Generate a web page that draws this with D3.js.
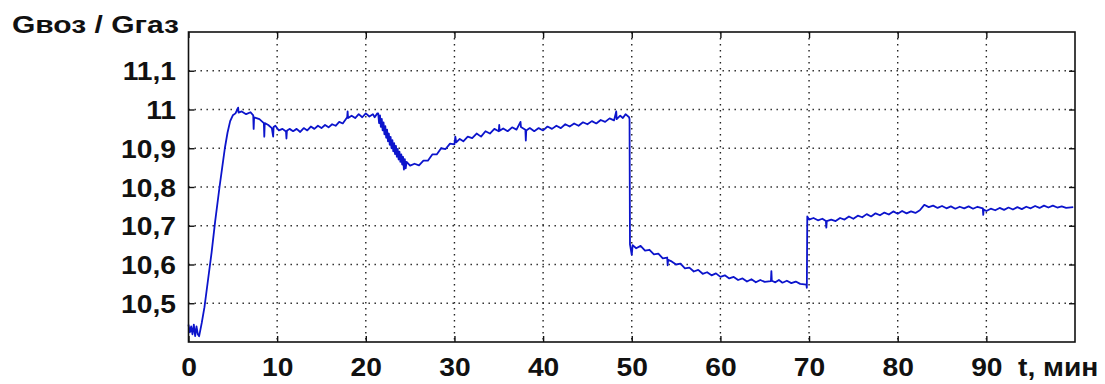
<!DOCTYPE html>
<html>
<head>
<meta charset="utf-8">
<script src="https://cdn.jsdelivr.net/npm/d3@7"></script>
<style>
  html, body { margin: 0; padding: 0; background: #fff; }
  svg { display: block; }
  text { font-family: "Liberation Sans", Arial, sans-serif; font-weight: bold; fill: #111; }
</style>
</head>
<body>
<svg id="chart" width="1105" height="384"></svg>
<script>
// Time, minutes (one row per stretch of the record)
const minutes = [
  0.0, 0.15, 0.3, 0.45, 0.6, 0.75, 0.9, 1.05, 1.2, 1.5, 1.8, 2.2, 2.6, 3.0, 3.5, 3.8, 4.1, 4.4, 4.7,
  5.0, 5.3, 5.6, 5.65, 6.0, 6.5, 7.0, 7.3, 7.35, 7.4, 8.0, 8.5, 8.55, 8.6,
  9.0, 9.4, 9.55, 9.6, 9.8, 10.2, 10.6, 11.0, 11.05, 11.1, 11.4, 11.8, 12.2, 12.6, 13.0, 13.4, 13.8, 14.2, 14.6,
  15.0, 15.4, 15.8, 16.2, 16.6, 17.0, 17.4, 17.9, 17.95, 18.0, 18.4, 18.8, 19.2, 19.6, 20.0, 20.4, 20.8, 21.0, 21.3,
  21.4, 21.5, 21.6, 21.7, 21.8, 21.9, 22.0, 22.1, 22.2, 22.3, 22.4, 22.5, 22.6, 22.7, 22.8, 22.9, 23.0,
  23.1, 23.2, 23.3, 23.4, 23.5, 23.6, 23.7, 23.8, 23.9, 24.0, 24.1, 24.2, 24.3, 24.4, 24.5, 24.6,
  25.0, 25.5, 26.0, 26.5, 27.0, 27.5, 28.0, 28.5, 29.0, 29.5, 30.0, 30.1, 30.2, 30.6, 31.0, 31.5, 32.0, 32.5,
  33.0, 33.5, 34.0, 34.5, 35.0, 35.05, 35.1, 35.5, 36.0, 36.5, 37.0, 37.45, 37.5, 38.0, 38.05, 38.1, 38.5, 39.0,
  39.5, 40.0, 40.5, 41.0, 41.5, 42.0, 42.5, 43.0, 43.5, 44.0, 44.5, 45.0, 45.5, 46.0, 46.5, 47.0, 47.5, 48.0,
  48.25, 48.3, 48.7, 49.0, 49.3, 49.7, 49.75,
  49.8, 50.0, 50.1, 50.5, 51.0, 51.5, 52.0, 52.5, 53.0, 53.5, 54.0, 54.05, 54.1, 54.5, 55.0, 55.5, 56.0, 56.5,
  57.0, 57.5, 58.0, 58.5, 59.0, 59.5, 60.0, 60.5, 61.0, 61.5, 62.0, 62.5, 63.0, 63.5, 64.0, 64.5, 65.0, 65.7,
  65.75, 65.8, 66.2, 66.6, 67.0, 67.5, 68.0, 68.5, 69.0, 69.7, 69.75,
  69.8, 70.0, 70.5, 71.0, 71.5, 71.9, 71.95, 72.0, 72.5, 73.0, 73.5, 74.0, 74.5, 75.0, 75.5, 76.0, 76.5, 77.0,
  77.5, 78.0, 78.5, 79.0, 79.5, 80.0, 80.5, 81.0, 81.5, 82.0, 82.5, 83.0, 83.5, 84.0, 84.5, 85.0, 85.5, 86.0,
  86.5, 87.0, 87.5, 88.0, 88.5, 89.0, 89.6, 89.65, 89.7, 90.0, 90.5, 91.0, 91.5, 92.0, 92.5, 93.0, 93.5, 94.0,
  94.5, 95.0, 95.5, 96.0, 96.5, 97.0, 97.5, 98.0, 98.5, 99.0, 99.8
];

// Gвоз / Gгаз ratio, same rows as above
const ratio = [
  10.445, 10.425, 10.44, 10.42, 10.445, 10.415, 10.44, 10.42, 10.415, 10.45, 10.49, 10.56, 10.63, 10.71, 10.80, 10.85, 10.90, 10.94, 10.97,
  10.985, 10.99, 11.005, 10.992, 10.995, 10.988, 10.993, 10.985, 10.95, 10.98, 10.975, 10.965, 10.93, 10.965,
  10.96, 10.952, 10.93, 10.955, 10.958, 10.946, 10.95, 10.943, 10.925, 10.945, 10.95, 10.944, 10.95, 10.942, 10.952, 10.946, 10.956, 10.95, 10.958,
  10.952, 10.96, 10.954, 10.962, 10.958, 10.968, 10.964, 10.98, 10.995, 10.978, 10.984, 10.978, 10.988, 10.98, 10.99, 10.982, 10.988, 10.98, 10.99,
  10.99, 10.965, 10.985, 10.955, 10.976, 10.946, 10.967, 10.936, 10.957, 10.927, 10.948, 10.918, 10.938, 10.909, 10.929, 10.9, 10.921,
  10.892, 10.913, 10.885, 10.906, 10.878, 10.898, 10.871, 10.891, 10.865, 10.884, 10.858, 10.878, 10.845, 10.872, 10.848, 10.865,
  10.855, 10.86, 10.856, 10.868, 10.868, 10.884, 10.884, 10.9, 10.898, 10.912, 10.91, 10.93, 10.915, 10.924, 10.918, 10.93, 10.926, 10.938,
  10.93, 10.944, 10.938, 10.95, 10.944, 10.96, 10.945, 10.951, 10.944, 10.954, 10.948, 10.968, 10.955, 10.948, 10.92, 10.946, 10.952, 10.944,
  10.952, 10.946, 10.956, 10.95, 10.958, 10.952, 10.962, 10.956, 10.964, 10.958, 10.967, 10.962, 10.97, 10.964, 10.973, 10.968, 10.977, 10.972,
  10.995, 10.975, 10.984, 10.978, 10.988, 10.98, 10.975,
  10.652, 10.625, 10.65, 10.642, 10.648, 10.636, 10.638, 10.626, 10.628, 10.616, 10.618, 10.598, 10.612, 10.608, 10.6, 10.602, 10.59, 10.592,
  10.582, 10.586, 10.576, 10.58, 10.572, 10.577, 10.568, 10.572, 10.564, 10.568, 10.56, 10.564, 10.556, 10.562, 10.554, 10.56, 10.555, 10.557,
  10.583, 10.558, 10.554, 10.56, 10.553, 10.558, 10.552, 10.556, 10.55, 10.548, 10.54,
  10.724, 10.716, 10.72, 10.714, 10.718, 10.712, 10.695, 10.712, 10.716, 10.712, 10.72, 10.716, 10.724, 10.718, 10.726, 10.722, 10.73, 10.724,
  10.732, 10.727, 10.734, 10.729, 10.737, 10.731, 10.738, 10.732, 10.737, 10.733, 10.74, 10.754, 10.748, 10.752, 10.746, 10.751, 10.745, 10.75,
  10.744, 10.749, 10.745, 10.75, 10.744, 10.749, 10.745, 10.728, 10.742, 10.738, 10.744, 10.74, 10.746, 10.741, 10.747, 10.742, 10.748, 10.743,
  10.749, 10.745, 10.751, 10.746, 10.752, 10.747, 10.752, 10.747, 10.75, 10.746, 10.748
];

const xTicks = [0, 10, 20, 30, 40, 50, 60, 70, 80, 90];
const yTicks = [10.5, 10.6, 10.7, 10.8, 10.9, 11, 11.1];
const yTitle = "Gвоз / Gгаз";
const xUnit = "t, мин";

const plot = { left: 188.5, top: 32, right: 1075, bottom: 342 };
const svg = d3.select("#chart");

const x = d3.scaleLinear().domain([0, 100]).range([plot.left, plot.right]);
const y = d3.scaleLinear().domain([10.4, 11.2]).range([plot.bottom, plot.top]);

const fmt = v => String(v).replace(".", ",");
const stretch = "scale(1.13,1)";

// dotted grid
const grid = svg.append("g")
  .attr("stroke", "#222")
  .attr("stroke-width", 1.4)
  .attr("stroke-dasharray", "1.4 4.6");
grid.selectAll("line.gx").data(xTicks.filter(d => d > 0)).join("line")
  .attr("x1", d => x(d)).attr("x2", d => x(d))
  .attr("y1", plot.top).attr("y2", plot.bottom);
grid.selectAll("line.gy").data(yTicks).join("line")
  .attr("x1", plot.left).attr("x2", plot.right)
  .attr("y1", d => y(d)).attr("y2", d => y(d));

// inward tick marks on all four sides
const tickLen = 6;
const axes = [
  d3.axisLeft(y).tickValues(yTicks).tickSize(-tickLen).tickFormat(""),
  d3.axisRight(y).tickValues(yTicks).tickSize(-tickLen).tickFormat(""),
  d3.axisBottom(x).tickValues(xTicks).tickSize(-tickLen).tickFormat(""),
  d3.axisTop(x).tickValues(xTicks).tickSize(-tickLen).tickFormat("")
];
const offsets = [
  `translate(${plot.left},0)`, `translate(${plot.right},0)`,
  `translate(0,${plot.bottom})`, `translate(0,${plot.top})`
];
axes.forEach((ax, i) => {
  const g = svg.append("g").attr("transform", offsets[i]).call(ax);
  g.select(".domain").remove();
  g.selectAll(".tick line").attr("stroke", "#111").attr("stroke-width", 1.4);
});

// data line
const n = Math.min(minutes.length, ratio.length);
const pts = d3.range(n).map(i => [minutes[i], ratio[i]]);
svg.append("path")
  .datum(pts)
  .attr("fill", "none")
  .attr("stroke", "#0c14cc")
  .attr("stroke-width", 1.8)
  .attr("stroke-linejoin", "round")
  .attr("d", d3.line().x(d => x(d[0])).y(d => y(d[1])));

// frame
svg.append("rect")
  .attr("x", plot.left).attr("y", plot.top)
  .attr("width", plot.right - plot.left).attr("height", plot.bottom - plot.top)
  .attr("fill", "none").attr("stroke", "#111").attr("stroke-width", 1.6);

// y tick labels
const yl = svg.append("g").attr("transform", `translate(${plot.left},0)`)
  .call(d3.axisLeft(y).tickValues(yTicks).tickSize(0).tickPadding(11).tickFormat(fmt));
yl.select(".domain").remove();
yl.selectAll("text")
  .attr("font-size", 25).attr("font-family", "Liberation Sans, Arial, sans-serif")
  .attr("font-weight", "bold").attr("fill", "#111")
  .attr("dy", "0.36em")
  .attr("transform", stretch);

// x tick labels
const xl = svg.append("g").attr("transform", `translate(0,${plot.bottom})`)
  .call(d3.axisBottom(x).tickValues(xTicks).tickSize(0).tickPadding(0).tickFormat(fmt));
xl.select(".domain").remove();
xl.selectAll("text")
  .attr("font-size", 25).attr("font-family", "Liberation Sans, Arial, sans-serif")
  .attr("font-weight", "bold").attr("fill", "#111")
  .attr("y", 34).attr("dy", 0)
  .attr("transform", stretch);

// unit label after last x tick
svg.append("text")
  .attr("transform", `translate(1018,376) ${stretch}`)
  .attr("font-size", 25)
  .text(xUnit);

// quantity label, top left
svg.append("text")
  .attr("x", 12).attr("y", 33)
  .attr("font-size", 24)
  .attr("textLength", 167).attr("lengthAdjust", "spacingAndGlyphs")
  .text(yTitle);
</script>
</body>
</html>
